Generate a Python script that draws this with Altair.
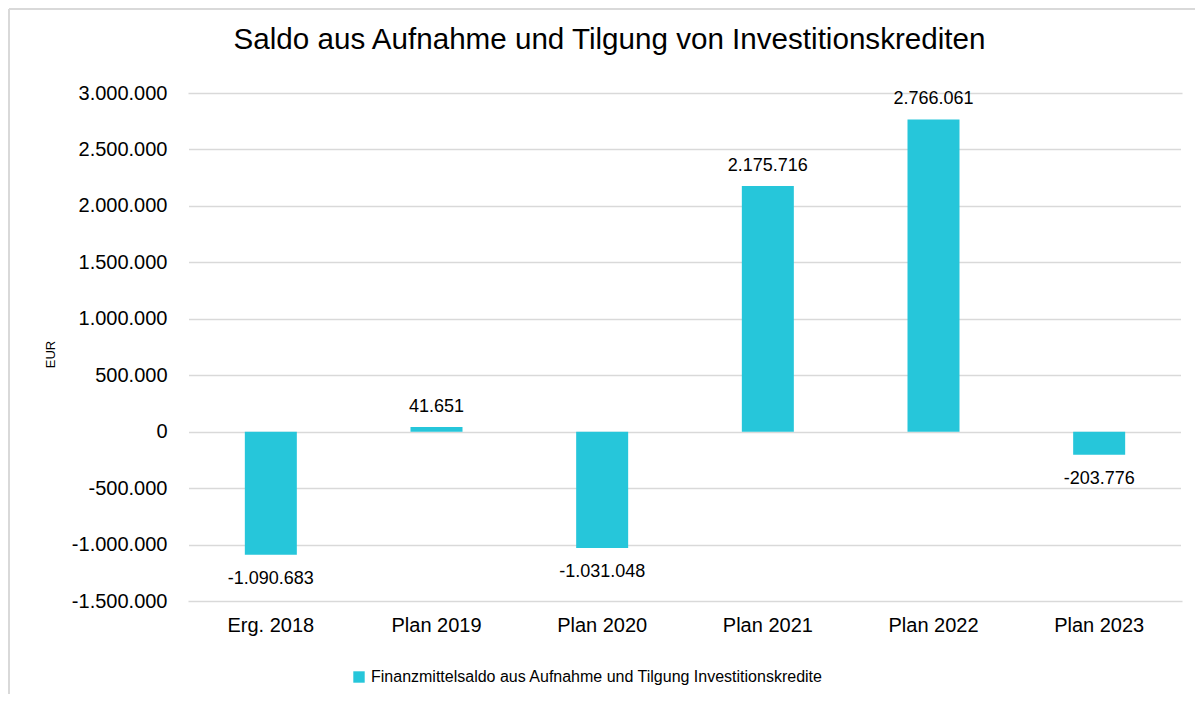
import altair as alt
import pandas as pd

categories = ["Erg. 2018", "Plan 2019", "Plan 2020", "Plan 2021", "Plan 2022", "Plan 2023"]
values = [-1090683, 41651, -1031048, 2175716, 2766061, -203776]
series_name = "Finanzmittelsaldo aus Aufnahme und Tilgung Investitionskredite"
title_text = "Saldo aus Aufnahme und Tilgung von Investitionskrediten"
y_ticks = [-1500000, -1000000, -500000, 0, 500000, 1000000, 1500000, 2000000, 2500000, 3000000]


def de_fmt(v):
    s = f"{abs(v):,}".replace(",", ".")
    return ("-" if v < 0 else "") + s


df = pd.DataFrame({
    "Kategorie": categories,
    "Wert": values,
    "Label": [de_fmt(v) for v in values],
    "Serie": [series_name] * len(values),
})

FONT = "Liberation Sans"
BAR = "#26C6DA"

x_enc = alt.X("Kategorie:N", sort=categories, title=None,
              scale=alt.Scale(paddingInner=0, paddingOuter=0),
              axis=alt.Axis(labelAngle=0, labelFontSize=20, labelFont=FONT, labelColor="#000000",
                            ticks=False, domain=False, labelPadding=14, grid=False, gridOpacity=0))
y_enc = alt.Y("Wert:Q", title="EUR",
              scale=alt.Scale(domain=[-1500000, 3000000], nice=False),
              axis=alt.Axis(values=y_ticks, labelFontSize=20, labelFont=FONT, labelColor="#000000",
                            labelExpr="replace(replace(format(datum.value, ','), regexp(',', 'g'), '.'), '\u2212', '-')",
                            ticks=False, domain=False, labelPadding=21,
                            gridColor="#D9D9D9", gridWidth=1.5,
                            titleFontSize=13, titleFont=FONT, titleFontWeight="normal", titleColor="#000000",
                            titleAngle=-90, titleX=-138, titleY=261, titleAlign="center", titleBaseline="middle"))

base = alt.Chart(df)

# white cover rules at the plot-area side edges (hide any view outline)
cover_df = pd.DataFrame({"x0": [0, 994], "y0": [3, 3], "y1": [505, 505]})
cover = alt.Chart(cover_df).mark_rule(color="#FFFFFF", strokeWidth=2).encode(
    x=alt.X("x0:Q", scale=None), y=alt.Y("y0:Q", scale=None), y2="y1:Q")

bars = base.mark_bar(size=52, color=BAR).encode(
    x=x_enc, y=y_enc,
    color=alt.Color("Serie:N", scale=alt.Scale(range=[BAR]),
                    legend=alt.Legend(title=None, orient="none", legendX=163, legendY=576,
                                      symbolType="square", symbolSize=130, symbolStrokeWidth=0,
                                      labelFontSize=16, labelFont=FONT, labelColor="#000000",
                                      labelLimit=800, symbolOffset=0, labelOffset=4)),
)

pos_labels = base.transform_filter("datum.Wert >= 0").mark_text(
    baseline="alphabetic", dy=-15, fontSize=18, font=FONT, color="#000000"
).encode(x=alt.X("Kategorie:N", sort=categories), y="Wert:Q", text="Label:N")

neg_labels = base.transform_filter("datum.Wert < 0").mark_text(
    baseline="alphabetic", dy=29, fontSize=18, font=FONT, color="#000000"
).encode(x=alt.X("Kategorie:N", sort=categories), y="Wert:Q", text="Label:N")

title_df = pd.DataFrame({"t": [title_text]})
title_mark = alt.Chart(title_df).mark_text(
    fontSize=29.6, font=FONT, color="#000000", align="center", baseline="alphabetic"
).encode(x=alt.value(421.5), y=alt.value(-44), text="t:N")

# frame of the chart area (decoration): left edge and top edge
frame_df = pd.DataFrame({"x0": [-179, -179], "x1": [-179, 1010], "y0": [-84, -84], "y1": [620, -84]})
frame = alt.Chart(frame_df).mark_rule(color="#D9D9D9", strokeWidth=2).encode(
    x=alt.X("x0:Q", scale=None), x2="x1:Q",
    y=alt.Y("y0:Q", scale=None), y2="y1:Q")

chart = alt.layer(bars, cover, pos_labels, neg_labels, title_mark, frame).properties(
    width=994, height=508,
    padding={"left": 180, "top": 85, "right": 13, "bottom": 93},
    autosize=alt.AutoSizeParams(type="none"),
    view=alt.ViewBackground(stroke="transparent", strokeWidth=0, strokeOpacity=0),
).configure(
    background="#FFFFFF",
    view=alt.ViewConfig(stroke="transparent", strokeWidth=0, strokeOpacity=0),
    axisX=alt.AxisConfig(grid=False, domain=False, ticks=False),
    axisY=alt.AxisConfig(domain=False, ticks=False),
    style={"cell": {"stroke": "transparent", "strokeWidth": 0}},
)

chart.save("out.html", embed_options={"renderer": "svg", "actions": False})
